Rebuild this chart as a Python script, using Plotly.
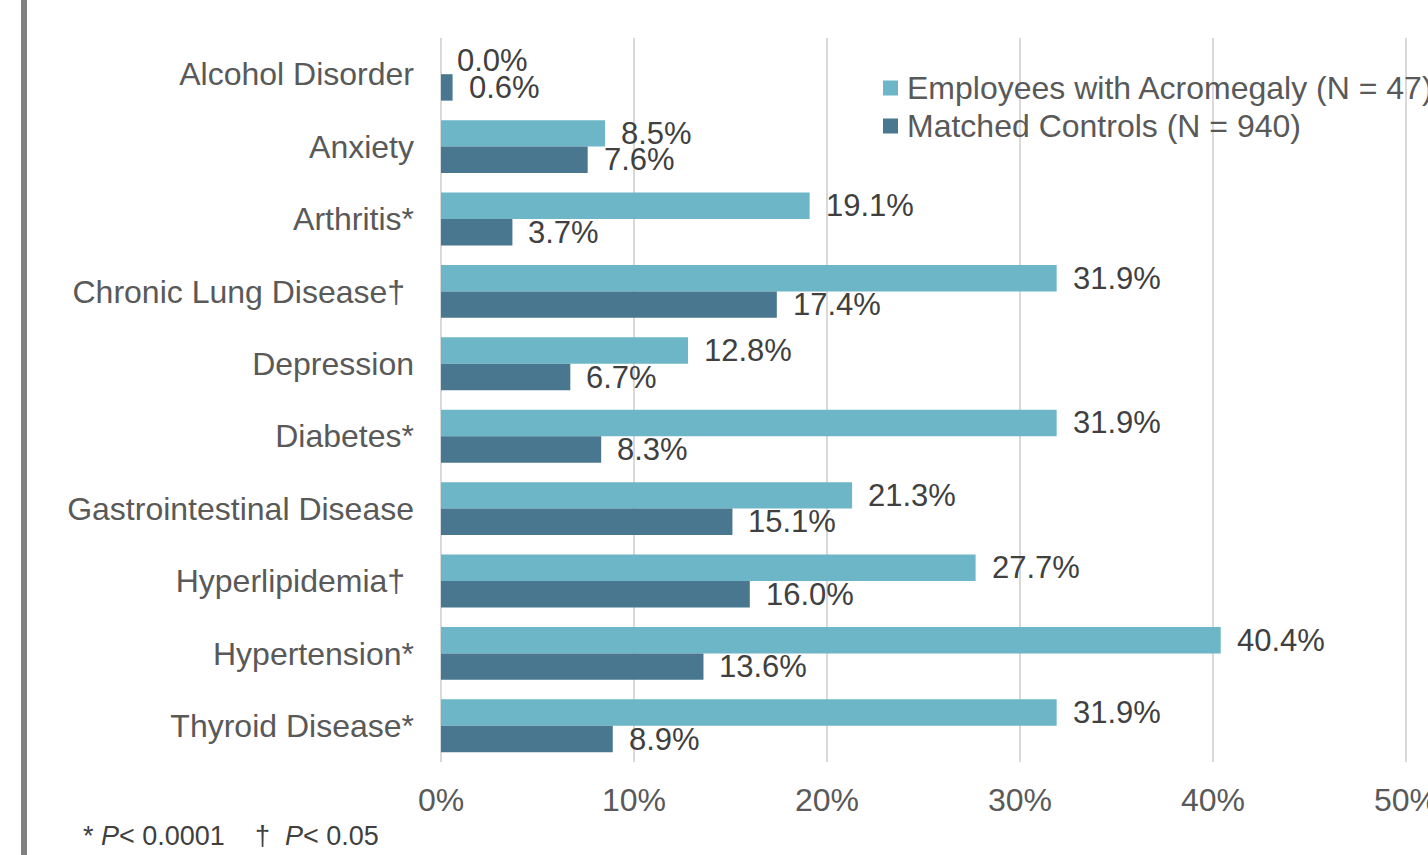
import plotly.graph_objects as go

categories = [
    "Alcohol Disorder", "Anxiety", "Arthritis*", "Chronic Lung Disease†\u00a0",
    "Depression", "Diabetes*", "Gastrointestinal Disease", "Hyperlipidemia†\u00a0",
    "Hypertension*", "Thyroid Disease*",
]
employees = [0.0, 8.5, 19.1, 31.9, 12.8, 31.9, 21.3, 27.7, 40.4, 31.9]
controls = [0.6, 7.6, 3.7, 17.4, 6.7, 8.3, 15.1, 16.0, 13.6, 8.9]
series_names = ["Employees with Acromegaly (N = 47)", "Matched Controls (N = 940)"]
x_ticks = [0, 10, 20, 30, 40, 50]
x_tick_labels = ["0%", "10%", "20%", "30%", "40%", "50%"]
footnote = "*\u00a0<i>P</i>< 0.0001\u00a0\u00a0\u00a0\u00a0†\u00a0\u00a0<i>P</i>< 0.05"

FONT = "Arial, 'Liberation Sans', sans-serif"
TEAL = "#6cb6c7"
DARK = "#49778f"
COLORS = [TEAL, DARK]
BARGAP = 0.27

fig = go.Figure()
for name, vals, col in zip(series_names, [employees, controls], COLORS):
    fig.add_trace(go.Bar(y=categories, x=vals, orientation="h", name=name,
                         marker=dict(color=col, line=dict(width=0)), showlegend=False))

W, H = 1428, 855
L, T, B = 441, 38, 93
pw = W - L
ph = H - T - B


def px_x(p):
    return (p - L) / pw


def px_y(p):
    return 1 - (p - T) / ph


half = (1 - BARGAP) / 4.0
annotations = []
for i, (e, c) in enumerate(zip(employees, controls)):
    for val, off in ((e, -half), (c, half)):
        annotations.append(dict(
            x=val, y=i + off, xref="x", yref="y", text=f"{val:.1f}%",
            showarrow=False, xanchor="left", yanchor="middle", xshift=14,
            font=dict(family=FONT, size=31, color="#404040"),
        ))

annotations.append(dict(
    x=px_x(81), y=px_y(836), xref="paper", yref="paper",
    text=footnote, showarrow=False, xanchor="left", yanchor="middle",
    font=dict(family=FONT, size=27, color="#404040"),
))

# legend (drawn as text + swatches so the clipped first entry stays visible)
shapes = [dict(
    type="rect", xref="paper", yref="paper",
    x0=px_x(21), x1=px_x(27), y0=-0.3, y1=1.3,
    fillcolor="#808080", line=dict(width=0), layer="above",
)]
legend_rows = [88, 126]
for name, col, cy in zip(series_names, COLORS, legend_rows):
    shapes.append(dict(
        type="rect", xref="paper", yref="paper",
        x0=px_x(883), x1=px_x(898), y0=px_y(cy + 7.5), y1=px_y(cy - 7.5),
        fillcolor=col, line=dict(width=0), layer="above",
    ))
    annotations.append(dict(
        x=px_x(905), y=px_y(cy), xref="paper", yref="paper",
        text=name, showarrow=False, xanchor="left", yanchor="middle",
        font=dict(family=FONT, size=32, color="#595959"),
    ))

fig.update_layout(
    width=W, height=H,
    margin=dict(l=L, r=0, t=T, b=B, pad=0, autoexpand=False),
    paper_bgcolor="white", plot_bgcolor="white",
    barmode="group", bargap=BARGAP, bargroupgap=0,
    font=dict(family=FONT, size=32, color="#595959"),
    showlegend=False,
    xaxis=dict(
        range=[0, pw / 19.3], tickvals=x_ticks, ticktext=x_tick_labels,
        showgrid=True, gridcolor="#d9d9d9", gridwidth=1.5,
        zeroline=True, zerolinecolor="#d9d9d9", zerolinewidth=1.5,
        showline=False, ticks="", ticklabelstandoff=16, ticklabeloverflow="allow",
        automargin=False,
        tickfont=dict(family=FONT, size=32, color="#595959"),
    ),
    yaxis=dict(
        autorange="reversed", showgrid=False, zeroline=False, showline=False,
        ticks="", ticklabelstandoff=26, automargin=False,
        tickfont=dict(family=FONT, size=32, color="#595959"),
    ),
    annotations=annotations,
    shapes=shapes,
)

fig.write_html(
    "out.html",
    config={"displayModeBar": False},
    post_script="document.body.style.margin='0';document.body.style.overflow='hidden';",
)
